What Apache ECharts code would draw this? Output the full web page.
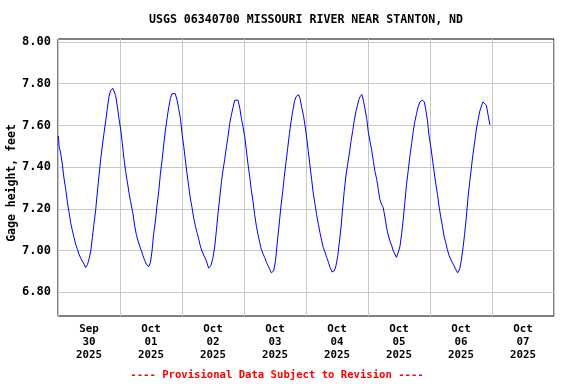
<!DOCTYPE html>
<html><head><meta charset="utf-8">
<script src="https://cdn.jsdelivr.net/npm/echarts@6/dist/echarts.min.js"></script>
<style>html,body{margin:0;padding:0;background:#fff}#c{width:576px;height:384px}</style>
</head><body><div id="c"></div>
<script>
const titleText = 'USGS 06340700 MISSOURI RIVER NEAR STANTON, ND';
const footerText = '---- Provisional Data Subject to Revision ----';
const yAxisName = 'Gage height, feet';
const dayLabels = ['Sep\n30\n2025','Oct\n01\n2025','Oct\n02\n2025','Oct\n03\n2025','Oct\n04\n2025','Oct\n05\n2025','Oct\n06\n2025','Oct\n07\n2025'];
const yTicks = [6.8, 7.0, 7.2, 7.4, 7.6, 7.8, 8.0];
// hours since Sep 30 2025 00:00
const hours = [0.15,0.4,1.05,1.7,2.3,3.0,3.6,4.3,4.9,5.6,6.2,6.85,7.5,8.1,8.8,9.4,10.1,10.7,11.4,12.0,12.7,13.3,13.9,14.6,15.2,15.9,16.5,17.2,17.8,18.5,19.1,19.7,20.4,21.2,22.3,23.0,23.6,24.3,24.9,25.5,26.2,26.9,27.5,28.1,29.0,29.7,30.3,31.0,31.6,32.3,32.9,33.6,34.2,35.1,35.8,36.4,37.0,37.7,38.3,39.0,39.6,40.3,40.9,41.6,42.2,42.9,43.5,44.1,44.8,45.4,46.1,46.7,47.4,48.0,48.7,49.3,49.9,50.6,51.2,51.9,52.5,53.2,53.8,54.5,55.1,55.7,56.4,57.4,58.3,59.2,60.0,60.7,61.3,61.9,62.6,63.3,63.9,64.5,65.2,65.8,66.5,67.1,67.8,68.4,69.1,69.7,70.4,71.0,71.6,72.3,72.9,73.5,74.2,74.8,75.5,76.1,76.8,77.4,78.1,78.7,79.4,80.0,80.7,81.3,81.9,82.6,83.5,84.2,84.8,85.5,86.3,87.0,87.6,88.3,88.9,89.6,90.2,90.8,91.5,92.1,93.1,93.7,94.3,95.0,95.6,96.3,96.9,97.5,98.2,98.8,99.5,100.1,100.8,101.4,102.1,102.7,103.4,104.0,104.7,105.3,106.1,107.0,107.6,108.3,108.9,109.6,110.2,110.8,111.5,112.1,112.8,113.4,114.1,114.7,115.3,115.9,116.5,116.9,117.6,118.2,118.8,119.5,120.1,120.8,121.4,122.1,122.7,123.4,124.0,124.6,125.3,125.9,126.6,127.2,127.9,128.5,129.2,129.8,130.4,131.0,131.7,132.4,133.0,133.7,134.3,134.9,135.6,136.2,136.9,137.5,138.1,138.8,139.4,140.1,141.0,141.8,142.4,143.0,143.6,144.3,144.9,145.5,146.2,146.9,147.5,148.1,148.8,149.4,150.1,150.7,151.4,152.0,152.6,153.3,153.9,154.7,155.5,156.1,156.8,157.4,158.1,158.7,159.4,160.0,160.6,161.3,161.9,162.6,163.2,163.8,164.5,165.2,165.8,166.5,167.2];
const gageHeight = [7.549,7.50,7.467,7.411,7.348,7.292,7.236,7.181,7.133,7.094,7.062,7.03,7.006,6.983,6.963,6.95,6.935,6.918,6.932,6.959,6.998,7.062,7.125,7.197,7.276,7.363,7.435,7.506,7.562,7.625,7.681,7.737,7.768,7.778,7.744,7.689,7.633,7.578,7.514,7.443,7.379,7.324,7.276,7.235,7.177,7.117,7.078,7.046,7.022,6.998,6.975,6.951,6.935,6.922,6.943,6.998,7.078,7.141,7.213,7.284,7.363,7.435,7.506,7.578,7.633,7.689,7.729,7.752,7.760,7.752,7.721,7.681,7.633,7.562,7.498,7.435,7.371,7.308,7.252,7.205,7.157,7.117,7.086,7.054,7.022,6.998,6.978,6.951,6.916,6.927,6.967,7.022,7.094,7.173,7.252,7.332,7.387,7.435,7.498,7.546,7.610,7.649,7.689,7.721,7.729,7.721,7.681,7.633,7.594,7.546,7.483,7.419,7.356,7.292,7.236,7.173,7.117,7.078,7.038,7.006,6.983,6.967,6.943,6.927,6.911,6.893,6.903,6.951,7.03,7.112,7.213,7.284,7.356,7.427,7.490,7.562,7.617,7.665,7.713,7.737,7.748,7.729,7.689,7.649,7.602,7.538,7.475,7.411,7.340,7.276,7.221,7.173,7.125,7.086,7.046,7.014,6.990,6.967,6.943,6.919,6.897,6.903,6.927,6.975,7.038,7.117,7.205,7.284,7.363,7.411,7.467,7.522,7.575,7.625,7.665,7.695,7.725,7.737,7.748,7.721,7.681,7.633,7.570,7.522,7.483,7.427,7.379,7.340,7.292,7.244,7.221,7.205,7.157,7.109,7.070,7.046,7.022,6.998,6.983,6.967,6.990,7.022,7.078,7.157,7.236,7.316,7.387,7.451,7.514,7.570,7.617,7.657,7.689,7.713,7.721,7.713,7.673,7.625,7.554,7.498,7.443,7.387,7.324,7.268,7.213,7.165,7.117,7.070,7.038,7.006,6.975,6.959,6.943,6.927,6.911,6.893,6.911,6.951,7.014,7.078,7.165,7.252,7.332,7.395,7.459,7.522,7.578,7.625,7.665,7.689,7.713,7.721,7.697,7.649,7.602];

const FONT = 'DejaVu Sans Mono';
const chart = echarts.init(document.getElementById('c'), null, {renderer: 'canvas'});
chart.setOption({
  animation: false,
  backgroundColor: '#ffffff',
  grid: {left: 58, right: 22, top: 39, bottom: 68, show: true, borderColor: '#000', borderWidth: 1, backgroundColor: 'transparent', containLabel: false},
  xAxis: [
    {type: 'category', data: dayLabels, boundaryGap: true, position: 'bottom',
     axisLine: {show: false}, axisTick: {show: false},
     axisLabel: {interval: 0, margin: 7, color: '#000', fontFamily: FONT, fontWeight: 'bold', fontSize: 10.8, lineHeight: 13},
     splitLine: {show: true, interval: 0, lineStyle: {color: '#c8c8c8', width: 1}}},
    {type: 'value', min: 0, max: 192, show: false, splitLine: {show: false}}
  ],
  yAxis: {type: 'value', min: 6.686, max: 8.0144,
    axisLine: {show: false},
    axisTick: {show: false, customValues: yTicks},
    axisLabel: {customValues: yTicks, margin: 7, color: '#000', fontFamily: FONT, fontWeight: 'bold', fontSize: 12, formatter: v => v.toFixed(2)},
    splitLine: {show: true, lineStyle: {color: '#c8c8c8', width: 1}}},
  graphic: [
    {type: 'text', x: 306, y: 20, style: {text: titleText, x: 0, y: 0, align: 'center', verticalAlign: 'middle', fill: '#000', font: 'bold 11.6px "DejaVu Sans Mono"'}},
    {type: 'text', x: 277, y: 375, style: {text: footerText, x: 0, y: 0, align: 'center', verticalAlign: 'middle', fill: '#ff0000', font: 'bold 10.6px "DejaVu Sans Mono"'}},
    {type: 'text', x: 12, y: 183, rotation: Math.PI / 2, style: {text: yAxisName, x: 0, y: 0, align: 'center', verticalAlign: 'middle', fill: '#000', font: 'bold 11.5px "DejaVu Sans Mono"'}}
  ],
  series: [{
    type: 'line', xAxisIndex: 1, yAxisIndex: 0, showSymbol: false, symbol: 'none',
    lineStyle: {color: '#0000ff', width: 1}, data: hours.map((h, i) => [h, gageHeight[i]])
  }]
});
</script>
</body></html>
